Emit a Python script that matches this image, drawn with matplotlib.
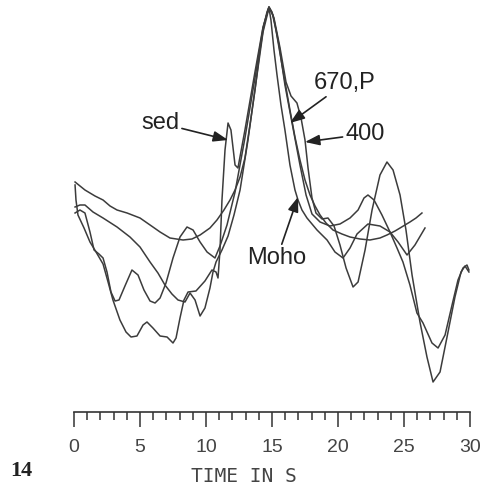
import matplotlib
matplotlib.use("Agg")
import matplotlib.pyplot as plt
from matplotlib.ticker import MultipleLocator

# time in s, amplitude in arbitrary units
smooth_t = [0.08, 0.83, 1.59, 2.20, 2.73, 3.26, 4.02, 5.00, 5.98, 6.52,
            7.27, 8.26, 8.94, 9.55, 10.30, 10.83, 11.36, 11.82, 12.20, 12.58,
            12.95, 13.33, 13.71, 14.09, 14.39, 14.62, 14.77, 15.00, 15.30, 15.76,
            16.36, 16.74, 17.12, 17.50, 17.88, 18.26, 18.64, 19.09, 19.62, 20.30,
            20.91, 21.67, 22.42, 23.18, 23.71, 24.32, 24.70, 25.45, 25.91, 26.36]
smooth_a = [1.18, 1.10, 1.04, 1.00, 0.94, 0.90, 0.87, 0.82, 0.73, 0.68,
            0.62, 0.60, 0.61, 0.65, 0.72, 0.80, 0.90, 1.00, 1.10, 1.23,
            1.42, 1.75, 2.10, 2.50, 2.75, 2.88, 2.93, 2.88, 2.70, 2.35,
            1.90, 1.63, 1.40, 1.20, 1.05, 0.94, 0.85, 0.77, 0.70, 0.66,
            0.63, 0.61, 0.60, 0.62, 0.65, 0.69, 0.72, 0.78, 0.82, 0.87]

moho_t = [0.08, 0.45, 0.83, 1.44, 2.20, 3.26, 4.24, 5.00, 5.76, 6.36,
          6.89, 7.42, 7.88, 8.41, 8.79, 9.17, 9.55, 9.92, 10.30, 10.53,
          10.76, 11.21, 11.67, 12.12, 12.58, 13.18, 13.79, 14.32, 14.77, 14.92,
          15.15, 15.38, 15.68, 15.98, 16.36, 16.74, 16.97, 17.27, 17.65, 18.41,
          19.17, 19.77, 20.38, 20.91, 21.44, 22.27, 23.18, 23.94, 24.55, 25.23,
          25.83, 26.59]
moho_a = [0.93, 0.95, 0.95, 0.88, 0.82, 0.73, 0.63, 0.53, 0.38, 0.27,
          0.15, 0.06, 0.00, -0.02, 0.07, 0.00, -0.16, -0.08, 0.12, 0.28,
          0.38, 0.50, 0.64, 0.85, 1.10, 1.60, 2.18, 2.68, 2.92, 2.80,
          2.50, 2.25, 1.95, 1.70, 1.35, 1.10, 1.00, 0.90, 0.82, 0.70,
          0.60, 0.48, 0.42, 0.52, 0.66, 0.76, 0.74, 0.68, 0.58, 0.45,
          0.55, 0.72]

t400_t = [0.08, 0.45, 0.83, 1.21, 1.52, 1.89, 2.20, 2.50, 2.80, 3.11,
          3.41, 3.86, 4.39, 4.85, 5.30, 5.76, 6.14, 6.52, 6.97, 7.50,
          8.03, 8.56, 9.02, 9.55, 10.08, 10.68, 11.06, 11.59, 12.20, 12.95,
          13.71, 14.32, 14.77, 15.15, 15.61, 16.06, 16.44, 16.89, 17.20, 17.50,
          17.73, 18.03, 18.33, 18.79, 19.24, 19.70, 20.15, 20.61, 21.14, 21.52,
          22.05, 22.58, 23.18, 23.71, 24.17, 24.70, 25.15, 25.61, 26.21, 26.74,
          27.20, 27.73, 28.26, 28.86, 29.32, 29.62, 29.92]
t400_a = [0.87, 0.90, 0.87, 0.68, 0.50, 0.46, 0.42, 0.28, 0.08, -0.01,
          0.00, 0.14, 0.30, 0.25, 0.10, -0.01, -0.03, 0.02, 0.17, 0.42,
          0.63, 0.73, 0.70, 0.58, 0.48, 0.42, 0.54, 0.75, 1.08, 1.62,
          2.22, 2.72, 2.93, 2.82, 2.52, 2.18, 2.04, 1.97, 1.82, 1.60,
          1.32, 1.02, 0.87, 0.81, 0.82, 0.74, 0.55, 0.32, 0.13, 0.18,
          0.50, 0.90, 1.25, 1.38, 1.30, 1.05, 0.70, 0.25, -0.22, -0.57,
          -0.82, -0.72, -0.37, 0.03, 0.28, 0.34, 0.28]

sed_t = [0.08, 0.15, 0.30, 0.76, 1.21, 1.67, 2.20, 2.58, 2.95, 3.48,
         3.94, 4.32, 4.77, 5.23, 5.53, 5.98, 6.52, 7.05, 7.50, 7.73,
         8.03, 8.33, 8.64, 9.24, 9.92, 10.45, 10.76, 10.91, 11.06, 11.21,
         11.44, 11.67, 11.89, 12.20, 12.42, 12.95, 13.71, 14.32, 14.77, 15.08,
         15.53, 15.98, 16.52, 17.12, 17.58, 18.03, 18.64, 19.39, 20.15, 20.91,
         21.52, 21.97, 22.27, 22.73, 23.33, 23.94, 24.47, 24.92, 25.45, 25.98,
         26.44, 27.12, 27.58, 28.11, 28.64, 29.09, 29.47, 29.77, 29.92]
sed_a = [1.15, 1.00, 0.85, 0.72, 0.58, 0.48, 0.36, 0.18, 0.00, -0.20,
         -0.32, -0.37, -0.36, -0.25, -0.22, -0.28, -0.36, -0.37, -0.43, -0.38,
         -0.18, 0.00, 0.08, 0.09, 0.19, 0.30, 0.28, 0.22, 0.50, 1.00,
         1.50, 1.77, 1.70, 1.35, 1.32, 1.70, 2.28, 2.73, 2.93, 2.85,
         2.55, 2.15, 1.77, 1.35, 1.05, 0.86, 0.78, 0.74, 0.76, 0.82,
         0.90, 1.02, 1.05, 1.00, 0.85, 0.68, 0.52, 0.38, 0.15, -0.13,
         -0.23, -0.43, -0.48, -0.35, -0.05, 0.20, 0.32, 0.35, 0.30]

# label text, arrow tip (t, amp), text centre (t, amp)
labels = ["sed", "670,P", "400", "Moho"]
tips = [(11.67, 1.60), (16.36, 1.77), (17.50, 1.58), (16.97, 1.03)]
texts = [(6.52, 1.77), (20.53, 2.17), (22.05, 1.66), (15.38, 0.42)]

W, H = 481, 484
fig = plt.figure(figsize=(W / 100, H / 100), dpi=100)
x0, x1 = 74, 470
ax = fig.add_axes([x0 / W, 1 - 400 / H, (x1 - x0) / W, 400 / H])
ax.set_xlim(0, 30)
ax.set_ylim(-1, 3)
ax.axis("off")

line_kw = dict(color="#3c3c3c", lw=1.1, solid_joinstyle="round")
for t, a in [(smooth_t, smooth_a), (moho_t, moho_a), (t400_t, t400_a), (sed_t, sed_a)]:
    ax.plot(t, a, **line_kw)

for lab, tip, txt in zip(labels, tips, texts):
    ax.annotate(lab, xy=tip, xytext=txt, ha="center", va="center",
                fontsize=17, family=["Liberation Sans", "DejaVu Sans"],
                color="#222222",
                arrowprops=dict(arrowstyle="-|>,head_length=0.55,head_width=0.2",
                                color="#222222", lw=1.2, mutation_scale=16,
                                shrinkA=0, shrinkB=0))

# time scale bar
sx = fig.add_axes([x0 / W, 1 - 427 / H, (x1 - x0) / W, 15 / H])
sx.set_xlim(0, 30)
sx.set_yticks([])
for side in ("left", "right", "bottom"):
    sx.spines[side].set_visible(False)
sx.spines["top"].set_linewidth(1.2)
sx.spines["top"].set_color("#333333")
sx.patch.set_alpha(0)
sx.xaxis.set_major_locator(MultipleLocator(5))
sx.xaxis.set_minor_locator(MultipleLocator(1))
sx.tick_params(axis="x", which="both", direction="in", top=True, bottom=False,
               labeltop=False, labelbottom=True, color="#333333", width=1.1)
sx.tick_params(axis="x", which="major", length=10.8, pad=9)
sx.tick_params(axis="x", which="minor", length=5.8)
for lbl in sx.get_xticklabels():
    lbl.set_family(["Liberation Sans", "DejaVu Sans"])
    lbl.set_fontsize(14)
    lbl.set_color("#444444")

fig.text(244 / W, 1 - 476 / H, "TIME IN S", ha="center", va="center",
         family="DejaVu Sans Mono", fontsize=14, color="#444444")
fig.text(21 / W, 1 - 471 / H, "14", ha="center", va="center",
         family=["Liberation Serif", "DejaVu Serif"], fontweight="bold",
         fontsize=16, color="#222222")

fig.savefig("out.png", dpi=100)
